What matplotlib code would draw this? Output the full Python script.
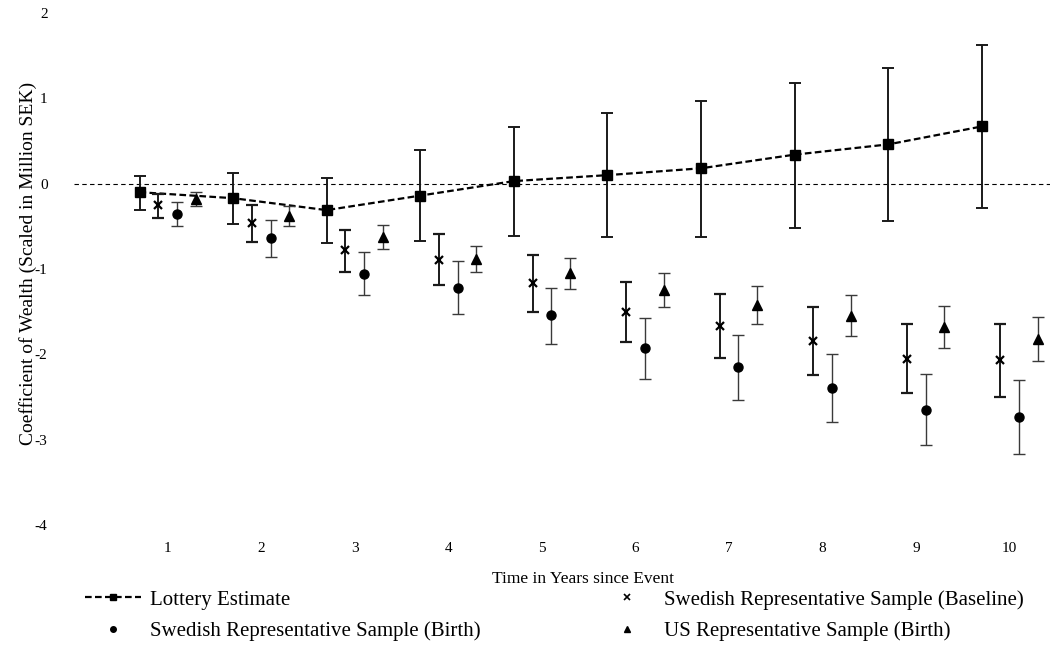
import numpy as np
import matplotlib
matplotlib.use("Agg")
import matplotlib.pyplot as plt
from matplotlib.lines import Line2D

plt.rcParams['font.family'] = ['Liberation Serif', 'DejaVu Serif']
plt.rcParams['axes.unicode_minus'] = False

# data (coefficients in million SEK)
years = [1, 2, 3, 4, 5, 6, 7, 8, 9, 10]

lottery = [-0.10, -0.17, -0.31, -0.14, 0.03, 0.10, 0.18, 0.34, 0.46, 0.67]
lottery_lo = [-0.31, -0.47, -0.69, -0.67, -0.61, -0.63, -0.62, -0.52, -0.44, -0.28]
lottery_hi = [0.09, 0.12, 0.07, 0.40, 0.66, 0.83, 0.97, 1.18, 1.36, 1.62]

baseline = [-0.25, -0.46, -0.78, -0.89, -1.16, -1.50, -1.67, -1.84, -2.05, -2.07]
baseline_lo = [-0.40, -0.68, -1.04, -1.19, -1.50, -1.85, -2.04, -2.24, -2.45, -2.50]
baseline_hi = [-0.12, -0.25, -0.54, -0.59, -0.84, -1.15, -1.29, -1.45, -1.64, -1.64]

birth = [-0.36, -0.64, -1.06, -1.22, -1.54, -1.93, -2.15, -2.39, -2.65, -2.73]
birth_lo = [-0.50, -0.86, -1.31, -1.53, -1.88, -2.29, -2.53, -2.79, -3.06, -3.17]
birth_hi = [-0.22, -0.42, -0.80, -0.91, -1.22, -1.58, -1.77, -2.00, -2.23, -2.30]

us = [-0.18, -0.38, -0.63, -0.88, -1.05, -1.25, -1.42, -1.55, -1.68, -1.82]
us_lo = [-0.26, -0.50, -0.77, -1.04, -1.23, -1.45, -1.64, -1.78, -1.92, -2.08]
us_hi = [-0.10, -0.26, -0.49, -0.73, -0.87, -1.05, -1.20, -1.31, -1.43, -1.56]

labels = ["Lottery Estimate",
          "Swedish Representative Sample (Baseline)",
          "Swedish Representative Sample (Birth)",
          "US Representative Sample (Birth)"]

fig = plt.figure(figsize=(10.5, 6.51), dpi=100)
ax = fig.add_axes([74 / 1050, 126 / 651, 976 / 1050, 512 / 651])

x = np.array(years, dtype=float)


def yerr(v, lo, hi):
    v = np.array(v)
    return [v - np.array(lo), np.array(hi) - v]


ax.axhline(0, color="black", lw=0.8, dashes=(4, 3), zorder=1)

# lottery estimate with dashed connecting line
ax.errorbar(x - 0.3, lottery, yerr=yerr(lottery, lottery_lo, lottery_hi),
            fmt="s", color="black", ms=7, ecolor="#1a1a1a", elinewidth=1.4,
            capsize=4.5, capthick=1.4, zorder=3)
ax.plot(x - 0.3, lottery, color="black", lw=1.6, dashes=(3, 1.5), zorder=2)

ax.errorbar(x - 0.1, baseline, yerr=yerr(baseline, baseline_lo, baseline_hi),
            fmt="x", color="black", ms=6, mew=1.6, ecolor="#1a1a1a",
            elinewidth=1.4, capsize=4, capthick=1.4, zorder=3)
ax.errorbar(x + 0.1, birth, yerr=yerr(birth, birth_lo, birth_hi),
            fmt="o", color="black", ms=6.5, ecolor="#3a3a3a",
            elinewidth=1.0, capsize=4, capthick=1.0, zorder=3)
ax.errorbar(x + 0.3, us, yerr=yerr(us, us_lo, us_hi),
            fmt="^", color="black", ms=6.5, ecolor="#3a3a3a",
            elinewidth=1.0, capsize=4, capthick=1.0, zorder=3)

ax.set_xlim(0, 10.43)
ax.set_ylim(-4, 2)
ax.set_xticks(years)
ax.set_yticks([-4, -3, -2, -1, 0, 1, 2])
ax.tick_params(length=0, labelsize=11)
ax.tick_params(axis="y", pad=19)
ax.tick_params(axis="x", pad=12)
for s in ax.spines.values():
    s.set_visible(False)

ax.set_ylabel("Coefficient of Wealth (Scaled in Million SEK)", fontsize=14)
ax.yaxis.set_label_coords(-0.038, 0.51)
ax.set_xlabel("Time in Years since Event", fontsize=12.5)
ax.xaxis.set_label_coords(0.5215, -0.09)

handles = [
    Line2D([], [], color="black", lw=1.6, dashes=(3, 1.5), marker="s", ms=5),
    Line2D([], [], ls="none", color="black", marker="o", ms=4),
    Line2D([], [], ls="none", color="black", marker="x", ms=4, mew=1.2),
    Line2D([], [], ls="none", color="black", marker="^", ms=4),
]
leg_labels = [labels[0], labels[2], labels[1], labels[3]]
fig.legend(handles, leg_labels, loc="upper left", ncol=2,
           bbox_to_anchor=(85 / 1050, 1 - 590 / 651), frameon=False,
           fontsize=15, handlelength=2.7, handletextpad=0.4,
           columnspacing=5.7, labelspacing=0.55, borderpad=0,
           borderaxespad=0)

fig.savefig("out.png", dpi=100)
